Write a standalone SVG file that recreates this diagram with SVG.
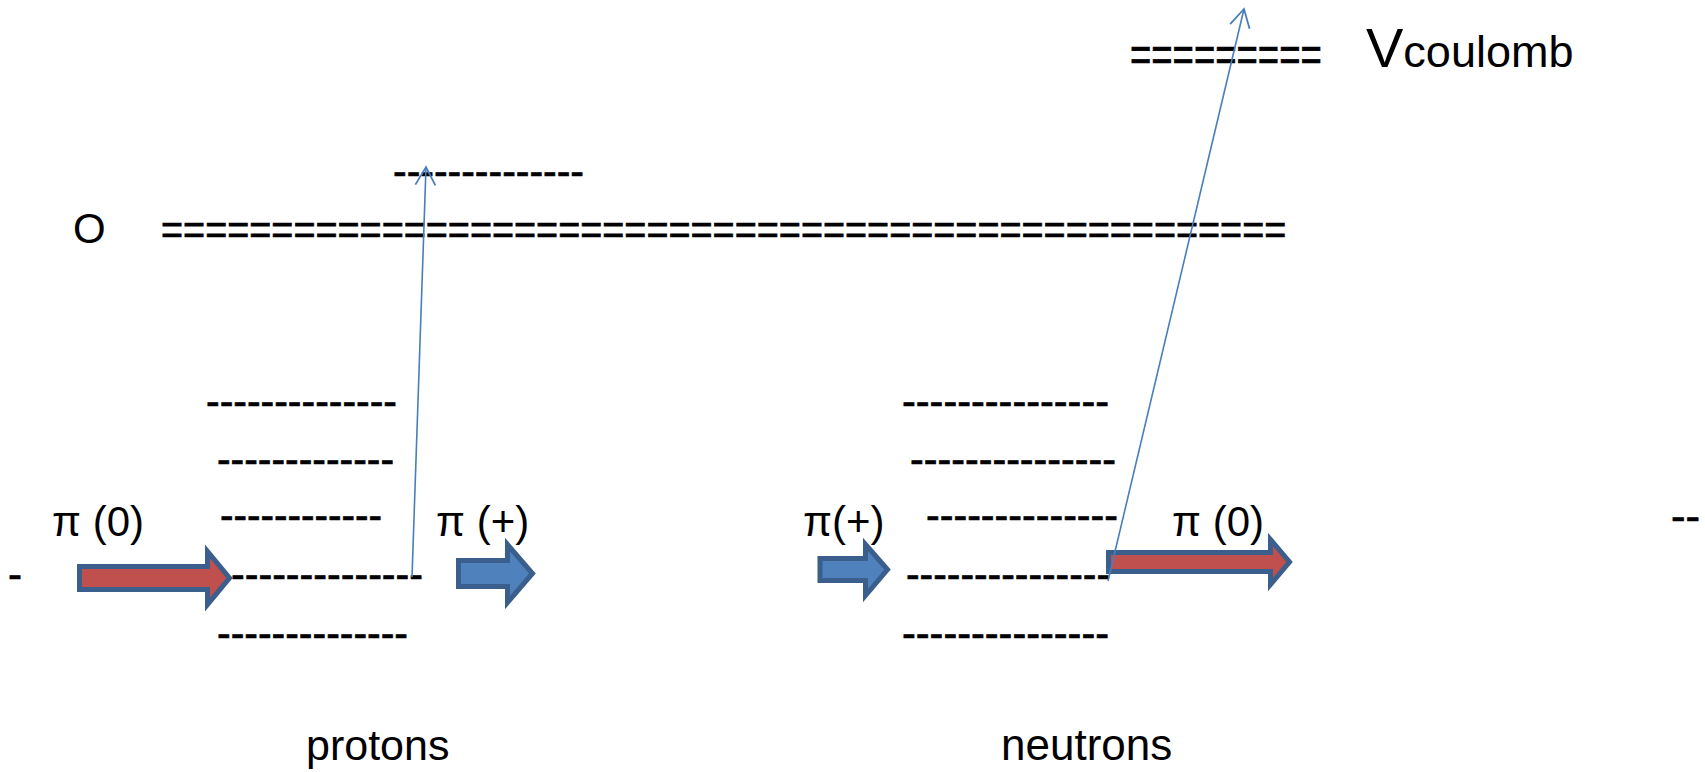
<svg xmlns="http://www.w3.org/2000/svg" width="1705" height="772" viewBox="0 0 1705 772">
<style>
.t{font-family:"Liberation Sans",Arial,sans-serif;font-size:42px;fill:#000}
.d{font-family:"Liberation Sans",Arial,sans-serif;font-size:42px;fill:#000;stroke:#000;stroke-width:0.7}
.red{fill:#C0504D;stroke:#3B5F8C;stroke-width:5;stroke-linejoin:miter;stroke-miterlimit:10}
.blue{fill:#4F81BD;stroke:#3B5F8C;stroke-width:5;stroke-linejoin:miter;stroke-miterlimit:10}
.conn{stroke:#4A7EBB;stroke-width:1.6;fill:none}
</style>
<defs>
<marker id="open" viewBox="-22 -12 26 24" refX="0" refY="0" markerWidth="26" markerHeight="24" markerUnits="userSpaceOnUse" orient="auto">
<path d="M-18,-10 L0,0 L-18,10" fill="none" stroke="#4A7EBB" stroke-width="1.8"/>
</marker>
</defs>
<rect width="1705" height="772" fill="#fff"/>

<g id="zero-level">
<text class="t" x="73" y="242.5">O</text>
<text class="d" transform="translate(161,243.5) scale(0.9,1)">===================================================</text>
</g>

<g id="coulomb-level">
<text class="d" transform="translate(1130,71) scale(0.73,1)" style="font-size:50px">=========</text>
<text class="t" x="1366" y="67" style="font-size:56px">V<tspan style="font-size:45px">coulomb</tspan></text>
</g>

<g id="top-proton-level">
<text class="d" x="393" y="185.5" textLength="191" lengthAdjust="spacingAndGlyphs">--------------</text>
</g>

<g id="proton-levels">
<text class="d" x="206" y="415.5" textLength="191" lengthAdjust="spacingAndGlyphs">--------------</text>
<text class="d" x="217" y="473.5" textLength="177" lengthAdjust="spacingAndGlyphs">-------------</text>
<text class="d" x="220" y="529.5" textLength="162" lengthAdjust="spacingAndGlyphs">------------</text>
<text class="d" x="231" y="588.5" textLength="192" lengthAdjust="spacingAndGlyphs">--------------</text>
<text class="d" x="217" y="647.5" textLength="191" lengthAdjust="spacingAndGlyphs">--------------</text>
<text class="d" x="8" y="588.5">-</text>
</g>

<g id="neutron-levels">
<text class="d" x="902" y="415.5" textLength="207" lengthAdjust="spacingAndGlyphs">---------------</text>
<text class="d" x="910" y="473.5" textLength="206" lengthAdjust="spacingAndGlyphs">---------------</text>
<text class="d" x="926" y="529.5" textLength="192" lengthAdjust="spacingAndGlyphs">--------------</text>
<text class="d" x="906" y="588.5" textLength="204" lengthAdjust="spacingAndGlyphs">---------------</text>
<text class="d" x="902" y="647.5" textLength="207" lengthAdjust="spacingAndGlyphs">---------------</text>
<text class="d" x="1671" y="530.5" textLength="29" lengthAdjust="spacingAndGlyphs">--</text>
</g>

<g id="pi0-left">
<text class="t" x="52" y="536">π (0)</text>
<path class="red" d="M79.5,566.5 H207.5 V551.5 L229.5,578 L207.5,604.5 V589.5 H79.5 Z"/>
</g>

<g id="piplus-left">
<text class="t" x="436" y="536">π (+)</text>
<path class="blue" d="M458.5,560.5 H507.5 V544.5 L532.5,573.5 L507.5,602.5 V586.5 H458.5 Z"/>
</g>

<g id="piplus-right">
<text class="t" x="803" y="536">π(+)</text>
<path class="blue" d="M820,558.5 H865.5 V544.5 L887.5,569.5 L865.5,595.5 V580.5 H820 Z"/>
</g>

<g id="pi0-right">
<text class="t" x="1172" y="536">π (0)</text>
<path class="red" d="M1108.5,552.5 H1270.5 V539.5 L1289.5,562 L1270.5,584.5 V571.5 H1108.5 Z"/>
</g>

<g id="labels">
<text class="t" x="306" y="760" style="font-size:43px">protons</text>
<text class="t" x="1001" y="760" style="font-size:44px">neutrons</text>
</g>

<g id="connectors">
<line class="conn" x1="412" y1="577" x2="426" y2="167" marker-end="url(#open)"/>
<line class="conn" x1="1108" y1="581" x2="1244" y2="9" marker-end="url(#open)"/>
</g>
</svg>
